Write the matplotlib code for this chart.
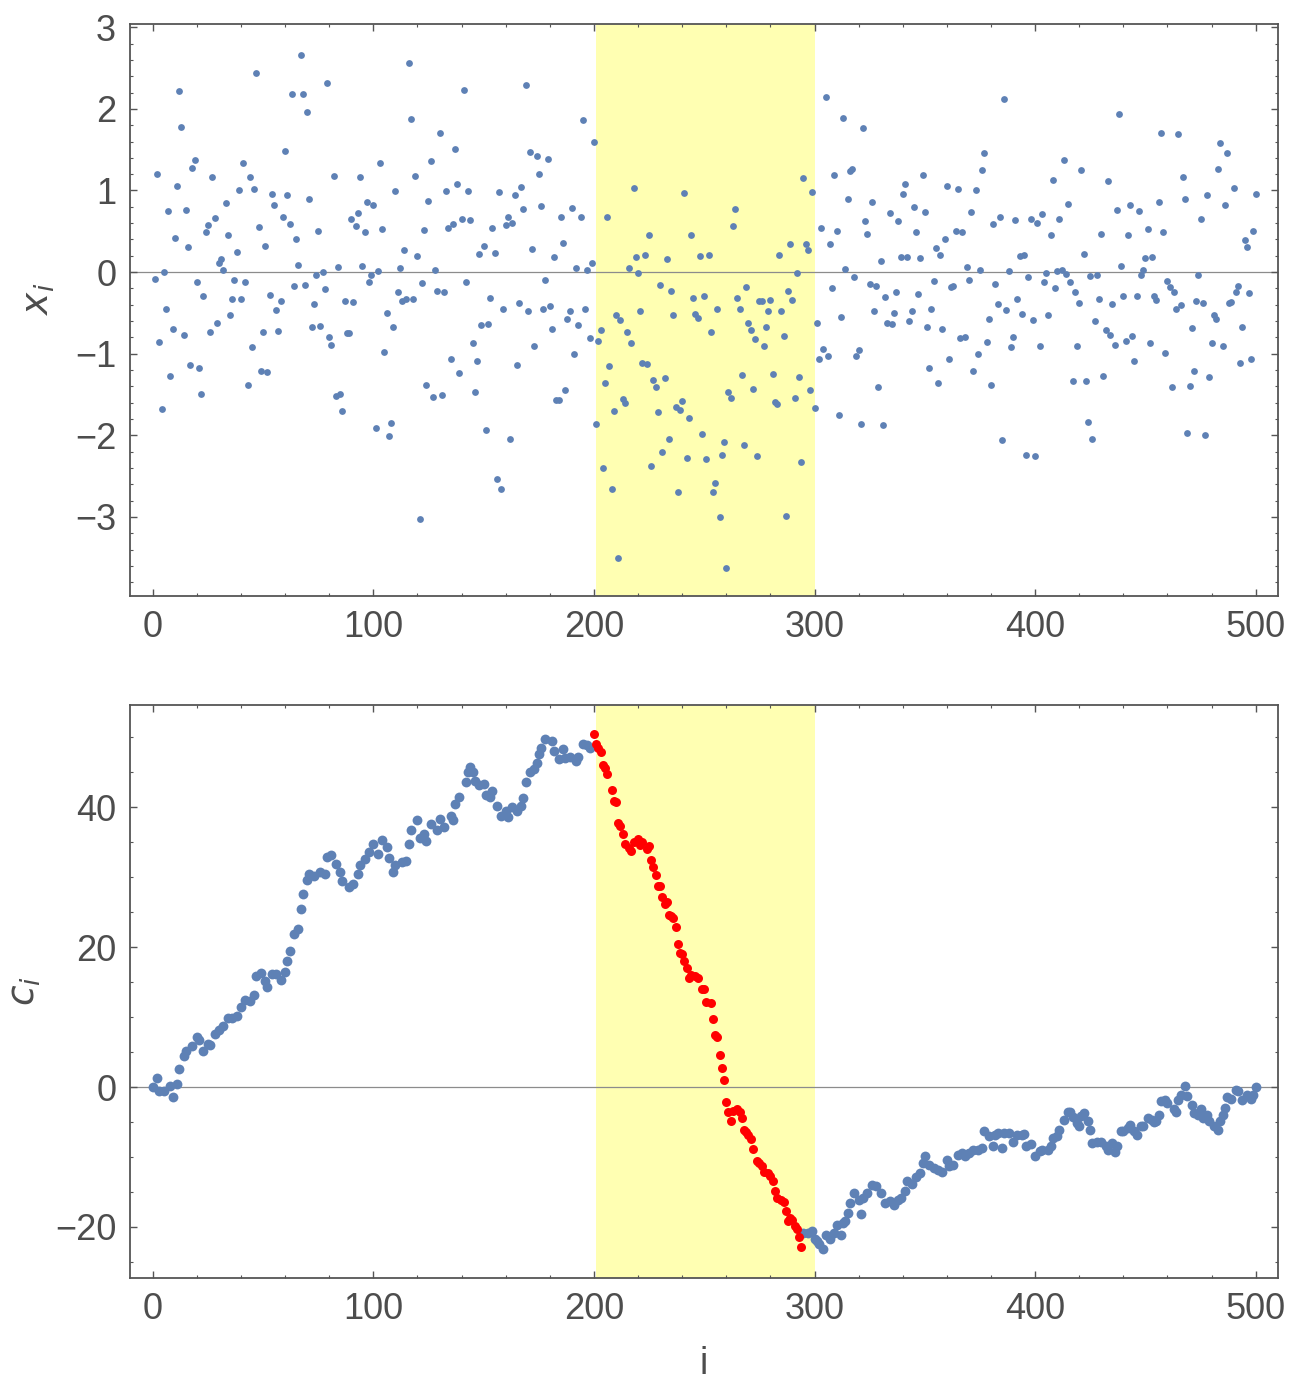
import numpy as np
import matplotlib
matplotlib.use("Agg")
import matplotlib.pyplot as plt
from matplotlib.ticker import MultipleLocator

# ---------------------------
# Data
# ---------------------------
# top panel: x_i for i = 1..500
x_vals = [
    -0.08, 1.20, -0.86, -1.68, 0.00, -0.45, 0.75, -1.27, -0.70, 0.42,
    1.05, 2.22, 1.78, -0.77, 0.76, 0.31, -1.14, 1.28, 1.37, -0.12,
    -1.17, -1.50, -0.29, 0.49, 0.58, -0.73, 1.17, 0.66, -0.63, 0.11,
    0.16, 0.03, 0.85, 0.46, -0.52, -0.33, -0.10, 0.25, 1.00, -0.33,
    1.34, -0.12, -1.38, 1.17, -0.92, 1.02, 2.44, 0.55, -1.21, -0.74,
    0.32, -1.23, -0.28, 0.96, 0.82, -0.47, -0.72, -0.35, 0.68, 1.48,
    0.94, 0.59, 2.18, -0.17, 0.41, 0.09, 2.66, 2.18, -0.16, 1.96,
    0.90, -0.67, -0.39, -0.04, 0.50, -0.66, 0.00, -0.21, 2.32, -0.80,
    -0.89, 1.18, -1.52, 0.06, -1.49, -1.70, -0.35, -0.75, -0.75, 0.65,
    -0.37, 0.57, 0.72, 1.16, 0.07, 0.49, 0.86, -0.12, -0.04, 0.82,
    -1.91, 0.01, 1.34, 0.53, -0.98, -0.50, -2.01, -1.85, -0.67, 0.99,
    -0.24, 0.05, -0.36, 0.27, -0.33, 2.56, 1.88, -0.33, 1.18, 0.20,
    -3.02, -0.13, 0.51, -1.38, 0.87, 1.36, -1.53, 0.03, -0.23, 1.71,
    -1.51, -0.25, 0.99, 0.54, -1.06, 0.59, 1.51, 1.08, -1.24, 0.65,
    2.23, -0.12, 0.99, 0.64, -0.87, -1.47, -1.09, 0.22, -0.65, 0.32,
    -1.93, -0.64, -0.32, 0.54, 0.23, -2.54, 0.98, -2.66, -0.45, 0.58,
    0.68, -2.05, 0.60, 0.94, -1.14, -0.38, 1.04, 0.77, 2.29, -0.48,
    1.47, 0.28, -0.91, 1.42, 1.20, 0.81, -0.45, -0.10, 1.39, -0.41,
    -0.70, 0.19, -1.57, -1.57, 0.68, 0.36, -1.45, -0.58, -0.48, 0.78,
    -1.00, 0.05, -0.65, 0.67, 1.86, -0.45, 0.02, -0.81, 0.11, 1.59,
    -1.86, -0.85, -0.71, -2.40, -1.36, 0.67, -1.15, -2.66, -1.70, -0.53,
    -3.50, -0.59, -1.56, -1.61, -0.73, 0.05, -0.87, 1.03, 0.18, -0.01,
    -0.48, -1.12, 0.21, -1.13, 0.45, -2.38, -1.32, -1.41, -1.72, -0.16,
    -2.20, -1.30, 0.16, -2.05, -0.23, -0.53, -1.65, -2.70, -1.69, -1.58,
    0.97, -2.28, -1.79, 0.45, -0.32, -0.51, -0.56, 0.20, -1.99, -0.29,
    -2.29, 0.21, -0.73, -2.69, -2.59, -0.45, -3.00, -2.24, -2.08, -3.63,
    -1.47, -1.54, 0.56, 0.77, -0.32, -0.45, -1.26, -2.12, -0.18, -0.62,
    -0.71, -1.43, -0.82, -2.25, -0.36, -0.36, -0.91, -0.67, -0.48, -0.34,
    -1.25, -1.59, -1.62, 0.21, -0.48, -0.78, -2.99, -0.23, 0.35, -0.34,
    -1.54, -0.01, -1.28, -2.33, 1.15, 0.34, 0.27, -1.45, 0.98, -1.66,
    -0.63, -1.06, 0.54, -0.94, 2.15, -1.03, 0.35, -0.20, 1.19, 0.50,
    -1.75, -0.55, 1.89, 0.04, 0.90, 1.24, 1.26, -0.06, -1.03, -0.95,
    -1.86, 1.77, 0.62, 0.47, -0.15, 0.86, -0.48, -0.17, -1.41, 0.13,
    -1.87, -0.31, -0.63, 0.72, -0.64, -0.50, -0.24, 0.62, 0.19, 0.96,
    1.08, 0.19, -0.60, -0.48, 0.80, 0.49, -0.27, 0.17, 1.19, 0.74,
    -0.67, -1.17, -0.45, -0.11, 0.30, -1.36, 0.21, -0.70, 0.40, 1.05,
    -1.06, -0.18, -0.17, 0.50, 1.02, -0.81, 0.49, -0.79, 0.06, -0.10,
    0.74, -1.21, 1.00, -1.00, 0.02, 1.25, 1.46, -0.86, -0.58, -1.39,
    0.59, -0.15, -0.39, 0.67, -2.06, 2.12, -0.46, 0.01, -0.92, -0.80,
    0.64, -0.33, 0.20, -0.51, 0.21, -2.24, -0.06, 0.65, -0.59, -2.26,
    0.60, -0.90, 0.71, -0.12, -0.01, -0.53, 0.45, 1.13, -0.20, 0.01,
    0.65, 0.02, 1.37, -0.02, 0.83, -0.12, -1.34, -0.24, -0.90, -0.38,
    1.25, 0.22, -1.34, -1.84, -0.05, -2.05, -0.60, -0.04, -0.33, 0.47,
    -1.27, -0.71, 1.11, -0.77, -0.39, -0.89, 0.76, 1.94, 0.07, -0.29,
    -0.85, 0.45, 0.82, -0.78, -1.09, -0.29, 0.75, -0.03, 0.02, 0.17,
    0.53, -0.87, 0.19, -0.29, -0.34, 0.86, 1.71, 0.49, -0.99, -0.11,
    -0.18, -1.41, -0.24, -0.45, 1.69, -0.40, 1.16, 0.90, -1.97, -1.40,
    -0.68, -1.21, -0.35, -0.03, 0.65, -0.38, -2.00, 0.95, -1.29, -0.87,
    -0.53, -0.57, 1.26, 1.58, -0.91, 0.82, 1.46, -0.38, -0.37, 1.03,
    -0.24, -0.17, -1.12, -0.67, 0.39, 0.31, -0.26, -1.07, 0.50, 0.96,
]
x_idx = np.arange(1, len(x_vals) + 1)

# bottom panel: c_i (index, value)
c_idx = [
    0, 2, 3, 5, 8, 9, 11, 12, 14, 15, 18, 20, 21, 23, 25, 26, 28, 30, 32, 34,
    36, 38, 40, 42, 44, 46, 47, 49, 51, 52, 54, 56, 58, 60, 61, 62, 64, 66, 67, 68,
    70, 71, 73, 76, 78, 79, 81, 83, 85, 86, 89, 91, 93, 94, 96, 98, 100,
    102, 104, 106, 107, 109, 110, 113, 115, 116, 117, 120, 121, 123, 124, 126, 129, 130, 132,
    135, 136, 137, 139, 142, 143, 144, 145, 146, 148, 150, 151, 153, 154, 156, 158, 160, 161,
    163, 165, 167, 168, 169, 171, 173, 174, 175, 176, 178, 181, 182, 184, 186, 187, 189,
    192, 193, 195, 197, 198,
    200, 201, 202, 203, 204, 205, 206, 208, 209, 210, 211, 212, 213, 214, 216, 217, 218,
    220, 221, 222, 224, 225, 226, 227, 228, 229, 230, 231, 232, 233, 234, 235, 236, 237,
    238, 239, 240, 241, 242, 243, 244, 246, 247, 249, 250, 251, 253, 254, 255, 256, 257,
    258, 259, 260, 261, 262, 263, 265, 266, 267, 268, 269, 270, 271, 272, 274, 275, 276,
    277, 279, 280, 281, 282, 283, 285, 286, 287, 288, 289, 290, 291, 292, 293, 294,
    295, 297, 299, 300, 301, 302, 304, 305, 307, 309, 310, 312, 313, 314, 315, 316, 318,
    320, 321, 322, 324, 326, 328, 330, 332, 334, 336, 338, 339, 341, 342, 344, 346, 348,
    349, 350, 352, 354, 356, 358, 360, 361, 363, 365, 367, 368, 370, 372, 374, 376, 377,
    379, 381, 382, 383, 385, 386, 388, 390, 392, 394, 395, 396, 398, 400, 402, 403, 406,
    407, 408, 410, 411, 413, 415, 416, 417, 419, 420, 421, 422, 424, 425, 426, 428, 430,
    432, 433, 435, 436, 437, 439, 440, 442, 443, 445, 446, 448, 449, 451, 453, 454, 455,
    456, 457, 459, 460, 463, 464, 465, 466, 468, 469, 471, 472, 474, 475, 476, 478, 479,
    481, 483, 484, 485, 486, 487, 489, 491, 492, 494, 496, 498, 499, 500,
]
c_vals = [
    0.0, 1.3, -0.5, -0.6, 0.1, -1.4, 0.4, 2.6, 4.4, 5.2, 5.9, 7.2, 6.7, 5.1, 6.2, 6.0, 7.6, 8.1, 8.7, 9.9,
    9.9, 10.2, 11.4, 12.5, 12.3, 13.2, 15.8, 16.3, 15.2, 14.3, 16.2, 16.2, 15.3, 16.4, 18.0, 19.5, 21.9, 22.6, 25.4, 27.6,
    29.6, 30.5, 30.1, 30.7, 30.5, 32.9, 33.1, 31.9, 30.7, 29.5, 28.6, 29.0, 30.4, 31.7, 32.6, 33.6, 34.8,
    33.3, 35.3, 34.3, 32.8, 30.7, 31.8, 32.1, 32.3, 34.7, 36.7, 38.1, 35.6, 36.2, 35.2, 37.6, 36.7, 38.3, 37.1,
    38.8, 38.2, 40.5, 41.5, 43.6, 45.0, 45.7, 45.0, 43.8, 43.1, 43.3, 41.7, 41.4, 42.3, 40.2, 38.8, 39.5, 38.6,
    40.0, 39.4, 40.2, 41.3, 43.6, 45.0, 45.5, 46.3, 47.6, 48.5, 49.8, 49.4, 48.1, 46.9, 48.3, 47.1, 47.2,
    46.6, 47.2, 49.0, 48.9, 48.5,
    50.5, 49.0, 48.5, 47.9, 46.1, 45.6, 44.8, 42.4, 40.9, 40.7, 37.7, 37.3, 36.1, 34.7, 34.2, 33.7, 35.0,
    35.5, 34.6, 35.0, 34.0, 34.5, 32.4, 31.4, 30.3, 28.8, 28.8, 27.1, 26.1, 26.4, 24.6, 24.4, 24.1, 22.9,
    20.5, 19.2, 19.0, 18.0, 17.0, 15.6, 16.0, 15.9, 15.6, 14.0, 14.0, 12.2, 12.0, 9.7, 7.4, 7.1, 4.6,
    2.7, 1.0, -2.2, -3.6, -4.8, -3.4, -3.1, -3.6, -4.4, -6.2, -6.4, -6.9, -7.4, -8.9, -10.6, -10.8, -11.3,
    -12.1, -12.3, -12.7, -13.5, -14.8, -15.8, -16.1, -16.5, -17.7, -19.2, -18.7, -19.0, -19.9, -20.3, -21.4, -22.8,
    -20.9, -20.8, -20.6, -21.7, -22.0, -22.4, -23.1, -21.1, -21.7, -20.9, -19.7, -21.1, -19.4, -19.2, -18.0, -16.6, -15.2,
    -16.1, -18.1, -15.9, -15.1, -14.0, -14.2, -15.2, -16.6, -16.3, -16.8, -16.1, -15.9, -14.9, -13.5, -13.8, -12.8, -12.3,
    -10.9, -9.9, -11.1, -11.6, -11.8, -12.2, -10.4, -11.3, -11.1, -9.7, -9.4, -9.9, -9.4, -9.0, -9.0, -8.7, -6.3,
    -7.0, -8.4, -6.8, -6.6, -8.7, -6.5, -6.5, -7.8, -6.8, -6.8, -6.7, -8.5, -8.1, -9.9, -9.2, -9.0, -9.0,
    -8.5, -7.3, -7.0, -6.1, -4.7, -3.5, -3.5, -4.3, -5.1, -5.5, -4.2, -3.7, -4.8, -6.2, -8.0, -7.8, -7.8,
    -8.5, -9.0, -8.0, -9.3, -8.4, -6.3, -6.3, -5.9, -5.4, -6.3, -6.8, -5.6, -5.5, -4.4, -4.7, -5.0, -4.8,
    -4.0, -2.0, -1.8, -2.3, -3.1, -3.6, -1.8, -1.1, 0.2, -1.3, -2.5, -3.7, -4.0, -3.1, -4.4, -4.0, -4.9,
    -5.6, -6.1, -4.9, -4.0, -3.0, -1.4, -1.7, -0.4, -0.6, -1.8, -1.1, -1.7, -1.1, 0.0,
]

highlight = (201, 300)     # shaded window
red_range = (200, 294)     # points drawn in red on the lower panel

# ---------------------------
# Style
# ---------------------------
BLUE = "#5E81B5"
RED = "#FF0000"
YELLOW = "#FFFFB2"
FRAME = "#555555"
TXT = "#4D4D4D"

plt.rcParams["font.family"] = ["Liberation Sans", "DejaVu Sans"]
plt.rcParams["mathtext.fontset"] = "dejavusans"


def style_axes(ax):
    for s in ax.spines.values():
        s.set_color(FRAME)
        s.set_linewidth(1.3)
    ax.tick_params(which="both", direction="in", top=True, right=True,
                   color=FRAME, labelcolor=TXT, labelsize=26)
    ax.tick_params(which="major", length=5, width=1.0, pad=10)
    ax.tick_params(which="minor", length=2.5, width=0.8)
    ax.set_xlim(-10.3, 510.1)
    ax.xaxis.set_major_locator(MultipleLocator(100))
    ax.xaxis.set_minor_locator(MultipleLocator(20))
    ax.axvspan(*highlight, color=YELLOW, lw=0, zorder=0)
    ax.axhline(0, color="#8C8C8C", lw=0.9, zorder=1)


fig = plt.figure(figsize=(13.03, 13.80), dpi=100)
ax1 = fig.add_axes([0.0998, 0.5681, 0.8810, 0.4145])
ax2 = fig.add_axes([0.0998, 0.0739, 0.8810, 0.4152])

# top: raw values
style_axes(ax1)
ax1.scatter(x_idx, x_vals, s=24, color=BLUE, lw=0, zorder=3)
ax1.set_ylim(-3.97, 3.04)
ax1.yaxis.set_major_locator(MultipleLocator(1))
ax1.yaxis.set_minor_locator(MultipleLocator(0.2))
ax1.set_ylabel(r"$x_i$", fontsize=27, color=TXT)
ax1.yaxis.set_label_coords(-0.064, 0.52)

# bottom: running sum
style_axes(ax2)
c_idx = np.array(c_idx)
c_vals = np.array(c_vals)
is_red = (c_idx >= red_range[0]) & (c_idx <= red_range[1])
ax2.scatter(c_idx[~is_red], c_vals[~is_red], s=50, color=BLUE, lw=0, zorder=3)
ax2.scatter(c_idx[is_red], c_vals[is_red], s=42, color=RED, lw=0, zorder=3)
ax2.set_ylim(-27.3, 54.6)
ax2.yaxis.set_major_locator(MultipleLocator(20))
ax2.yaxis.set_minor_locator(MultipleLocator(5))
ax2.set_ylabel(r"$c_i$", fontsize=27, color=TXT)
ax2.yaxis.set_label_coords(-0.076, 0.5)
ax2.set_xlabel("i", fontsize=27, color=TXT, labelpad=14)

fig.savefig("out.png", dpi=100)
